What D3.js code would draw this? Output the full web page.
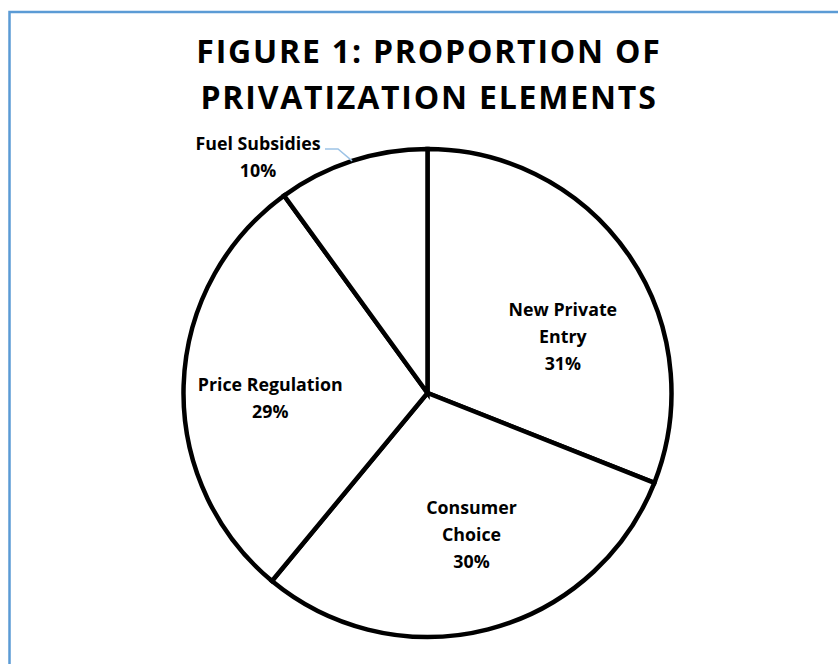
<!DOCTYPE html>
<html>
<head>
<meta charset="utf-8">
<script src="https://cdn.jsdelivr.net/npm/d3@7"></script>
<style>
  html, body { margin: 0; padding: 0; background: #fff; }
  svg { display: block; }
  text { font-family: "Open Sans", "Liberation Sans", sans-serif; font-weight: 700; fill: #000; }
</style>
</head>
<body>
<svg id="chart" width="838" height="664"></svg>
<script>
// Shares of privatization elements (percent)
const categories = ["New Private Entry", "Consumer Choice", "Price Regulation", "Fuel Subsidies"];
const values = [31, 30, 29, 10];
const labelLines = [["New Private", "Entry"], ["Consumer", "Choice"], ["Price Regulation"], ["Fuel Subsidies"]];
const titleLines = ["FIGURE 1: PROPORTION OF", "PRIVATIZATION ELEMENTS"];

const width = 838, height = 664;
const cx = 427.5, cy = 393, radius = 244;

// Label placement: angle (deg, clockwise from 12 o'clock) and distance as a fraction of radius
const labelLayout = {
  "New Private Entry": { angle: 67.6, dist: 0.6 },
  "Consumer Choice":   { angle: 162.8, dist: 0.61 },
  "Price Regulation":  { angle: 268, dist: 0.645 },
  "Fuel Subsidies":    { outside: true, x: 258, y: 157.5 }
};

const svg = d3.select("#chart");

// Chart area frame (continues past the right and bottom edges)
svg.append("rect")
  .attr("x", 9.5).attr("y", 12)
  .attr("width", 900).attr("height", 700)
  .attr("fill", "#fff")
  .attr("stroke", "#5B9BD5")
  .attr("stroke-width", 2.5);

// Title
const title = svg.append("g");
titleLines.forEach((t, i) => {
  title.append("text")
    .attr("x", 429).attr("y", 63 + i * 45.5)
    .attr("text-anchor", "middle")
    .attr("font-size", 32)
    .attr("letter-spacing", 1.8)
    .text(t);
});

const pie = d3.pie().sort(null).value(d => d)(values);
const arc = d3.arc().innerRadius(0).outerRadius(radius);

const g = svg.append("g").attr("transform", `translate(${cx},${cy})`);

g.selectAll("path.slice")
  .data(pie)
  .join("path")
  .attr("class", "slice")
  .attr("d", arc)
  .attr("fill", "#fff")
  .attr("stroke", "#000")
  .attr("stroke-width", 4.5)
  .attr("stroke-linejoin", "miter");

const lineGap = 27, capH = 12.5;

pie.forEach((p, i) => {
  const name = categories[i];
  const lines = labelLines[i].concat([values[i] + "%"]);
  const lay = labelLayout[name];
  let lx, ly;
  if (lay.outside) {
    lx = lay.x - cx; ly = lay.y - cy;
    // leader from the label to the slice edge at its mid angle
    const mid = (p.startAngle + p.endAngle) / 2;
    const ex = Math.sin(mid) * radius, ey = -Math.cos(mid) * radius;
    g.append("polyline")
      .attr("points", `${325 - cx},${149 - cy} ${338 - cx},${149 - cy} ${ex},${ey}`)
      .attr("fill", "none")
      .attr("stroke", "#9DC3E6")
      .attr("stroke-width", 1.5);
  } else {
    const a = lay.angle * Math.PI / 180;
    lx = Math.sin(a) * radius * lay.dist;
    ly = -Math.cos(a) * radius * lay.dist;
  }
  const blockH = (lines.length - 1) * lineGap + capH;
  const firstBase = ly - blockH / 2 + capH;
  const t = g.append("text")
    .attr("text-anchor", "middle")
    .attr("font-size", 17.8);
  lines.forEach((s, j) => {
    t.append("tspan").attr("x", lx).attr("y", firstBase + j * lineGap).text(s);
  });
});
</script>
</body>
</html>
